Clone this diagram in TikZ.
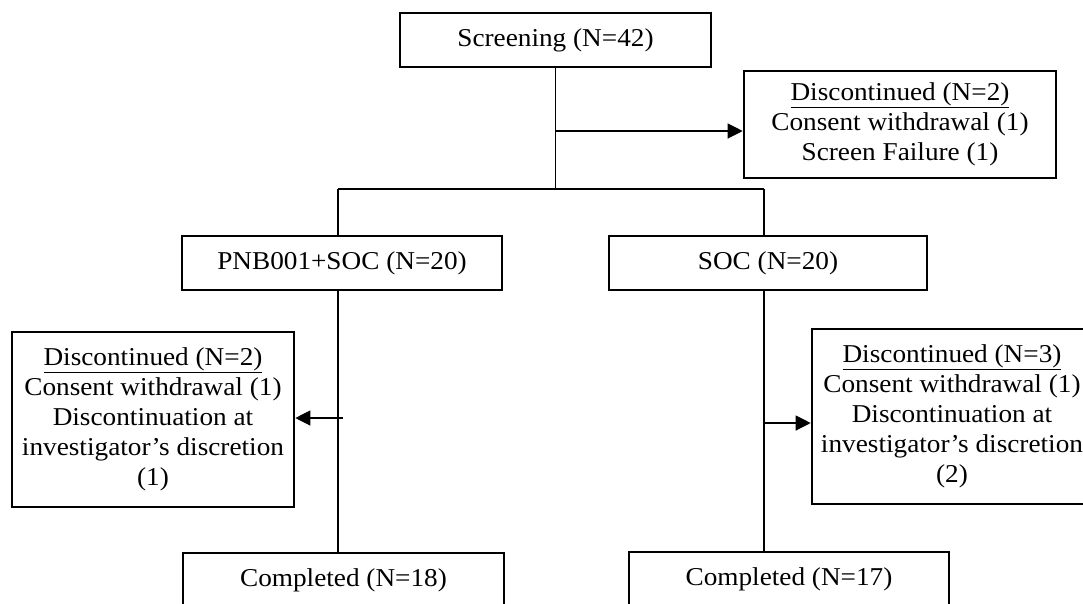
\documentclass[tikz,border=0pt]{standalone}
\usepackage{fontspec}
\setmainfont{Liberation Serif}[FakeStretch=1.06]
\usetikzlibrary{arrows.meta}
\begin{document}
\begin{tikzpicture}[x=1pt,y=-1pt,
  box/.style={draw, line width=2.6pt, inner sep=0pt, align=center, font=\fontsize{25.7}{30}\selectfont},
  link/.style={line width=1.2pt},
  arr/.style={link, -{Triangle[length=15pt,width=15pt]}}]
\useasboundingbox (0,0) rectangle (1083,603);
\clip (0,0) rectangle (1083,603);
% boxes
\node[box, minimum width=311pt, minimum height=54pt] (screen) at (555.5,40) {Screening (N=42)};
\node[box, minimum width=312pt, minimum height=107pt] (disc0) at (900,124.5)
  {\underline{Discontinued (N=2)}\\Consent withdrawal (1)\\Screen Failure (1)};
\node[box, minimum width=320pt, minimum height=54pt] (pnb) at (342,263) {PNB001+SOC (N=20)};
\node[box, minimum width=318pt, minimum height=54pt] (soc) at (768,263) {SOC (N=20)};
\node[box, minimum width=282pt, minimum height=175pt] (discL) at (153,419.5)
  {\underline{Discontinued (N=2)}\\Consent withdrawal (1)\\Discontinuation at\\investigator’s discretion\\(1)};
\node[box, minimum width=280pt, minimum height=175pt] (discR) at (952,416.5)
  {\underline{Discontinued (N=3)}\\Consent withdrawal (1)\\Discontinuation at\\investigator’s discretion\\(2)};
\node[box, minimum width=321pt, minimum height=54pt] (compL) at (343.5,580) {Completed (N=18)};
\node[box, minimum width=320pt, minimum height=54pt] (compR) at (789,579) {Completed (N=17)};
% junctions
\coordinate (jL) at (338,189);
\coordinate (jR) at (764,189);
\coordinate (a0) at (556,131);
\coordinate (aL) at (343,418);
\coordinate (aR) at (763,423);
% connectors
\draw[link] (screen.south) -- (screen.south |- jL);
\draw[link] (jL) -- (jR);
\draw[arr] (a0) -- (a0 -| disc0.west);
\draw[link] (jL) -- (jL |- pnb.north);
\draw[link] (jR) -- (jR |- soc.north);
\draw[link] (jL |- pnb.south) -- (jL |- compL.north);
\draw[link] (jR |- soc.south) -- (jR |- compR.north);
\draw[arr] (aL) -- (aL -| discL.east);
\draw[arr] (aR) -- (aR -| discR.west);
\end{tikzpicture}
\end{document}
